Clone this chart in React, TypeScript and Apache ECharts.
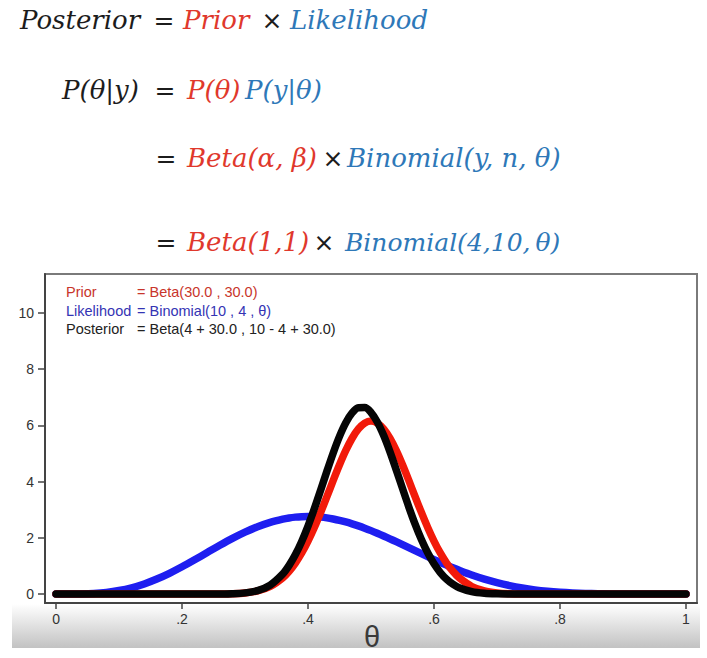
import React, { useEffect, useRef } from "react";
import * as echarts from "echarts";

const theta = [0, 0.02, 0.04, 0.06, 0.08, 0.1, 0.12, 0.14, 0.16, 0.18, 0.2, 0.22, 0.24, 0.26, 0.28, 0.3, 0.32, 0.34, 0.36, 0.37, 0.38, 0.39, 0.4, 0.41, 0.42, 0.43, 0.44, 0.45, 0.46, 0.47, 0.48, 0.49, 0.5, 0.51, 0.52, 0.53, 0.54, 0.55, 0.56, 0.57, 0.58, 0.59, 0.6, 0.61, 0.62, 0.63, 0.64, 0.66, 0.68, 0.7, 0.72, 0.74, 0.76, 0.78, 0.8, 0.82, 0.84, 0.86, 0.88, 0.9, 0.92, 0.94, 0.96, 0.98, 1];

const likelihood = [0, 0.0003, 0.0046, 0.0207, 0.0574, 0.1228, 0.2224, 0.359, 0.532, 0.737, 0.969, 1.219, 1.477, 1.733, 1.978, 2.201, 2.395, 2.551, 2.666, 2.707, 2.736, 2.753, 2.759, 2.753, 2.736, 2.709, 2.67, 2.622, 2.565, 2.498, 2.424, 2.343, 2.256, 2.163, 2.066, 1.965, 1.861, 1.755, 1.648, 1.541, 1.435, 1.33, 1.226, 1.125, 1.028, 0.933, 0.844, 0.677, 0.53, 0.404, 0.299, 0.214, 0.147, 0.0969, 0.0606, 0.0355, 0.0193, 0.0095, 0.0041, 0.0015, 0.0005, 0.0001, 0, 0, 0];

const prior = [0, 0, 0, 0, 0, 0, 0, 0, 0, 0, 0, 0, 0.0007, 0.0031, 0.012, 0.0392, 0.11, 0.268, 0.577, 0.808, 1.102, 1.46, 1.884, 2.368, 2.902, 3.467, 4.042, 4.599, 5.109, 5.544, 5.876, 6.084, 6.155, 6.084, 5.876, 5.544, 5.109, 4.599, 4.042, 3.467, 2.902, 2.368, 1.884, 1.46, 1.102, 0.808, 0.577, 0.268, 0.11, 0.0392, 0.012, 0.0031, 0.0007, 0, 0, 0, 0, 0, 0, 0, 0, 0, 0, 0, 0];

const posterior = [0, 0, 0, 0, 0, 0, 0, 0, 0, 0, 0, 0, 0.0005, 0.0025, 0.0111, 0.0402, 0.1225, 0.3186, 0.7157, 1.0185, 1.403, 1.871, 2.419, 3.0345, 3.695, 4.37, 5.022, 5.612, 6.098, 6.446, 6.629, 6.634, 6.462, 6.124, 5.649, 5.069, 4.425, 3.758, 3.101, 2.487, 1.938, 1.4653, 1.075, 0.7648, 0.527, 0.3513, 0.226, 0.0845, 0.0271, 0.0074, 0.0017, 0.0003, 0, 0, 0, 0, 0, 0, 0, 0, 0, 0, 0, 0, 0];

const xTicks = [0, 0.2, 0.4, 0.6, 0.8, 1];
const xTickLabels = ["0", ".2", ".4", ".6", ".8", "1"];
const yTicks = [0, 2, 4, 6, 8, 10];

const legendRows = [
  { name: "Prior", formula: "= Beta(30.0 , 30.0)", color: "#c8352b" },
  { name: "Likelihood", formula: "= Binomial(10 , 4 , θ)", color: "#3434b4" },
  { name: "Posterior", formula: "= Beta(4 + 30.0 , 10 - 4 + 30.0)", color: "#222222" },
];

const RED = "#e0382c";
const BLUE = "#2e78b8";
const DARK = "#1c1c1c";
const MATH_FONT = "italic 26px 'DejaVu Serif', serif";
const UP_FONT = "25px 'DejaVu Sans', sans-serif";

function mathText(x: number, y: number, text: string, color: string, size = 26) {
  return {
    type: "text",
    x,
    y,
    silent: true,
    style: { text, fill: color, font: `italic ${size}px 'DejaVu Serif', serif`, verticalAlign: "middle", align: "left" },
  };
}
function opText(cx: number, y: number, text: string) {
  return {
    type: "text",
    x: cx,
    y,
    silent: true,
    style: { text, fill: DARK, font: UP_FONT, verticalAlign: "middle", align: "center" },
  };
}

export default function App() {
  const ref = useRef<HTMLDivElement>(null);
  useEffect(() => {
    if (!ref.current) return;
    const chart = echarts.init(ref.current, undefined, { renderer: "svg" });
    const mk = (arr: number[]) => theta.map((t, i) => [t, arr[i]]);
    const lineSeries = (name: string, arr: number[], color: string) => ({
      name,
      type: "line",
      data: mk(arr),
      smooth: 0.3,
      symbol: "none",
      lineStyle: { color, width: 7.5, cap: "round", join: "round" },
      z: 3,
    });

    const graphics: any[] = [
      {
        type: "rect",
        shape: { x: 12, y: 604, width: 688, height: 44 },
        z: -10,
        silent: true,
        style: {
          fill: new echarts.graphic.LinearGradient(0, 0, 0, 1, [
            { offset: 0, color: "rgba(255,255,255,1)" },
            { offset: 1, color: "#c2c2c2" },
          ]),
        },
      },
      // line 1
      mathText(20, 20, "Posterior", DARK),
      opText(164, 20, "="),
      mathText(183, 20, "Prior", RED),
      opText(272, 20, "×"),
      mathText(290, 20, "Likelihood", BLUE),
      // line 2
      mathText(62, 90, "P(θ|y)", DARK),
      opText(165, 90, "="),
      mathText(187, 90, "P(θ)", RED),
      mathText(245, 90, "P(y|θ)", BLUE),
      // line 3
      opText(166, 158, "="),
      mathText(187, 158, "Beta(α, β)", RED),
      opText(333, 158, "×"),
      mathText(347, 158, "Binomial(y, n, θ)", BLUE),
      // line 4
      opText(166, 242, "="),
      mathText(187, 242, "Beta(1,1)", RED),
      opText(324, 242, "×"),
      mathText(345, 242, "Binomial(4,10,\u2009θ)", BLUE, 25),
      {
        type: "text",
        x: 372,
        y: 637,
        silent: true,
        style: { text: "θ", fill: "#3a3a3a", font: "29px 'Liberation Sans', sans-serif", align: "center", verticalAlign: "middle" },
      },
    ];
    legendRows.forEach((r, i) => {
      const y = 292 + i * 18.5;
      graphics.push({
        type: "text",
        x: 66,
        y,
        z: 10,
        silent: true,
        style: { text: r.name, fill: r.color, font: "14.5px 'Liberation Sans', sans-serif", verticalAlign: "middle" },
      });
      graphics.push({
        type: "text",
        x: 137,
        y,
        z: 10,
        silent: true,
        style: { text: r.formula, fill: r.color, font: "14.5px 'Liberation Sans', sans-serif", verticalAlign: "middle" },
      });
    });

    chart.setOption({
      animation: false,
      backgroundColor: "#ffffff",
      grid: {
        left: 45,
        top: 274,
        width: 652,
        height: 329,
        show: true,
        borderColor: "#7a7a7a",
        borderWidth: 2,
        backgroundColor: "transparent",
      },
      xAxis: {
        type: "value",
        min: -0.0175,
        max: 1.0175,
        axisLine: { show: true, onZero: false, lineStyle: { color: "#444", width: 2 } },
        axisTick: { show: true, customValues: xTicks, length: 6, lineStyle: { color: "#444", width: 1.5 } },
        axisLabel: {
          show: true,
          customValues: xTicks,
          formatter: (v: number) => xTickLabels[xTicks.indexOf(v)] ?? String(v),
          color: "#333",
          fontSize: 14,
          fontFamily: "'Liberation Sans', sans-serif",
          margin: 9,
        },
        splitLine: { show: false },
      },
      yAxis: {
        type: "value",
        min: -0.32,
        max: 11.39,
        axisLine: { show: true, onZero: false, lineStyle: { color: "#444", width: 2 } },
        axisTick: { show: true, customValues: yTicks, length: 7, lineStyle: { color: "#444", width: 1.5 } },
        axisLabel: {
          show: true,
          customValues: yTicks,
          color: "#333",
          fontSize: 14,
          fontFamily: "'Liberation Sans', sans-serif",
          margin: 11,
        },
        splitLine: { show: false },
      },
      series: [
        lineSeries("Likelihood", likelihood, "#1e1ef0"),
        lineSeries("Prior", prior, "#f21a0a"),
        lineSeries("Posterior", posterior, "#050505"),
      ],
      graphic: graphics,
    });
    return () => chart.dispose();
  }, []);
  return <div ref={ref} style={{ position: "absolute", left: 0, top: 0, width: 707, height: 658 }} />;
}
